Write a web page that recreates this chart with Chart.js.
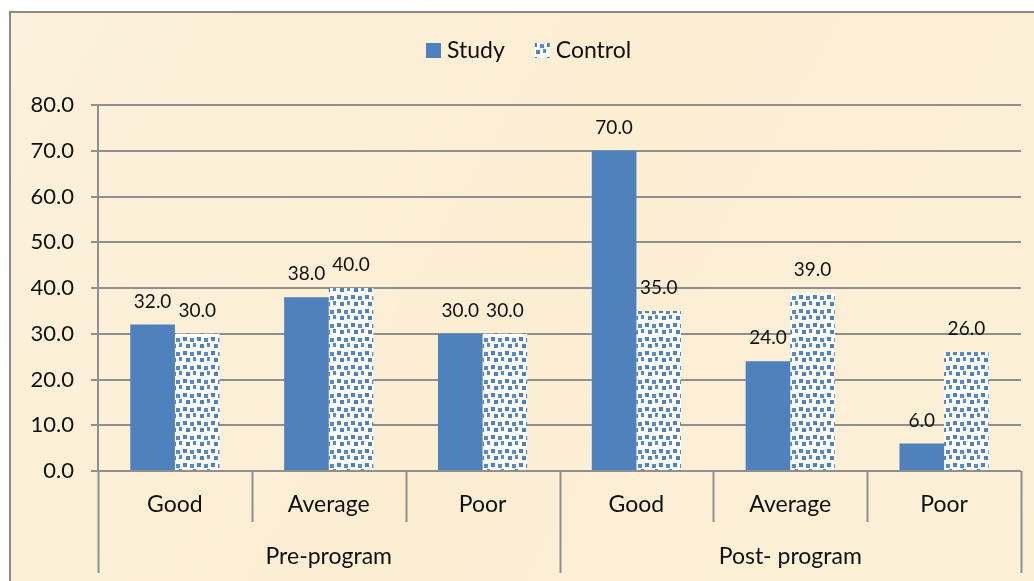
<!DOCTYPE html>
<html>
<head>
<meta charset="utf-8">
<script src="https://cdn.jsdelivr.net/npm/chart.js@4/dist/chart.umd.min.js"></script>
<style>
  html, body { margin: 0; padding: 0; background: #ffffff; }
  #wrap { position: relative; width: 1034px; height: 581px; }
  canvas { display: block; }
</style>
</head>
<body>
<div id="wrap"><canvas id="chart" width="1034" height="581"></canvas></div>
<script>
// Categories along the x axis and the two outer groups they belong to
const categories = ['Good', 'Average', 'Poor', 'Good', 'Average', 'Poor'];
const groups = ['Pre-program', 'Post- program'];
const groupSize = 3;

// Percent values per series
const studyValues = [32.0, 38.0, 30.0, 70.0, 24.0, 6.0];
const controlValues = [30.0, 40.0, 30.0, 35.0, 39.0, 26.0];
const seriesNames = ['Study', 'Control'];

// Y axis range
const yMin = 0;
const yMax = 80;
const yStep = 10;

const FONT = 'Lato, "Open Sans", "Liberation Sans", sans-serif';
const BLUE = '#4F81BD';
const GRID = '#8f8f8f';
const INK = '#111111';

// Dotted fill for the control series: scattered blue squares on white
function makeDotPattern() {
  const c = document.createElement('canvas');
  c.width = 14; c.height = 14;
  const g = c.getContext('2d');
  g.fillStyle = '#ffffff';
  g.fillRect(0, 0, 14, 14);
  const squares = [[1,1],[8,2],[4,8],[11,7]];
  squares.forEach(([x, y], i) => {
    g.fillStyle = i % 2 ? '#5a8ac5' : BLUE;
    g.fillRect(x, y, 4, 4);
  });
  return g.createPattern(c, 'repeat');
}
const dotPattern = makeDotPattern();

// Paper-coloured backdrop with a thin frame at the top and left
const backdrop = {
  id: 'backdrop',
  beforeDraw(chart) {
    const { ctx, width, height } = chart;
    ctx.save();
    ctx.fillStyle = '#ffffff';
    ctx.fillRect(0, 0, width, height);
    const grad = ctx.createLinearGradient(0, 0, width, height);
    grad.addColorStop(0, '#fcf1dc');
    grad.addColorStop(0.5, '#fbeed3');
    grad.addColorStop(1, '#fcf0d8');
    ctx.fillStyle = grad;
    ctx.fillRect(9, 11, width - 9, height - 11);
    ctx.strokeStyle = '#8a8a8a';
    ctx.lineWidth = 2;
    ctx.beginPath();
    ctx.moveTo(10, height);
    ctx.lineTo(10, 12);
    ctx.lineTo(width, 12);
    ctx.stroke();
    ctx.restore();
  }
};

// Two-level category axis: inner labels, outer group labels and divider lines
const groupedAxis = {
  id: 'groupedAxis',
  afterDraw(chart) {
    const { ctx, chartArea } = chart;
    const x = chart.scales.x;
    const n = categories.length;
    const bottom = chartArea.bottom;
    const edge = i => {
      if (i <= 0) return chartArea.left;
      if (i >= n) return chartArea.right;
      return (x.getPixelForValue(i - 1) + x.getPixelForValue(i)) / 2;
    };
    ctx.save();
    ctx.strokeStyle = GRID;
    ctx.lineWidth = 2;
    ctx.beginPath();
    ctx.moveTo(chartArea.left, bottom);
    ctx.lineTo(chartArea.right, bottom);
    for (let i = 0; i <= n; i++) {
      const px = Math.round(edge(i)) + 0.5;
      const len = (i % groupSize === 0) ? 102 : 51;
      ctx.moveTo(px, bottom);
      ctx.lineTo(px, bottom + len);
    }
    ctx.stroke();

    ctx.fillStyle = INK;
    ctx.textAlign = 'center';
    ctx.textBaseline = 'middle';
    ctx.font = '23px ' + FONT;
    categories.forEach((label, i) => {
      ctx.fillText(label, x.getPixelForValue(i), bottom + 34);
    });
    groups.forEach((label, g) => {
      const cx = (edge(g * groupSize) + edge((g + 1) * groupSize)) / 2;
      ctx.fillText(label, cx, bottom + 86);
    });
    ctx.restore();
  }
};

// Value labels above each bar
const valueLabels = {
  id: 'valueLabels',
  afterDatasetsDraw(chart) {
    const { ctx } = chart;
    ctx.save();
    ctx.fillStyle = INK;
    ctx.font = '19px ' + FONT;
    ctx.textAlign = 'center';
    ctx.textBaseline = 'alphabetic';
    chart.data.datasets.forEach((ds, di) => {
      chart.getDatasetMeta(di).data.forEach((bar, i) => {
        ctx.fillText(ds.data[i].toFixed(1), bar.x, bar.y - 17);
      });
    });
    ctx.restore();
  }
};

// Legend row above the plot
const legendRow = {
  id: 'legendRow',
  afterDraw(chart) {
    const { ctx } = chart;
    ctx.save();
    ctx.font = '23px ' + FONT;
    ctx.textBaseline = 'middle';
    ctx.textAlign = 'left';
    let px = 426;
    const cy = 51;
    chart.data.datasets.forEach((ds) => {
      ctx.fillStyle = ds.backgroundColor;
      ctx.fillRect(px, cy - 8, 15, 15);
      ctx.fillStyle = INK;
      ctx.fillText(ds.label, px + 21, cy);
      px += 21 + ctx.measureText(ds.label).width + 30;
    });
    ctx.restore();
  }
};

new Chart(document.getElementById('chart'), {
  type: 'bar',
  data: {
    labels: categories,
    datasets: [
      { label: seriesNames[0], data: studyValues, backgroundColor: BLUE, borderWidth: 0 },
      { label: seriesNames[1], data: controlValues, backgroundColor: dotPattern, borderWidth: 0 }
    ]
  },
  options: {
    responsive: false,
    animation: false,
    events: [],
    layout: { padding: { left: 0, right: 13, top: 105, bottom: 110 } },
    datasets: { bar: { categoryPercentage: 0.58, barPercentage: 1.0 } },
    scales: {
      x: { display: false },
      y: {
        min: yMin,
        max: yMax,
        afterFit(scale) { scale.width = 98; },
        border: { display: true, color: GRID, width: 2 },
        grid: { color: GRID, lineWidth: 2, tickLength: 7, drawTicks: true },
        ticks: {
          stepSize: yStep,
          padding: 17,
          color: INK,
          font: { family: FONT, size: 22 },
          callback: v => Number(v).toFixed(1)
        }
      }
    },
    plugins: {
      legend: { display: false },
      tooltip: { enabled: false }
    }
  },
  plugins: [backdrop, valueLabels, groupedAxis, legendRow]
});
</script>
</body>
</html>
